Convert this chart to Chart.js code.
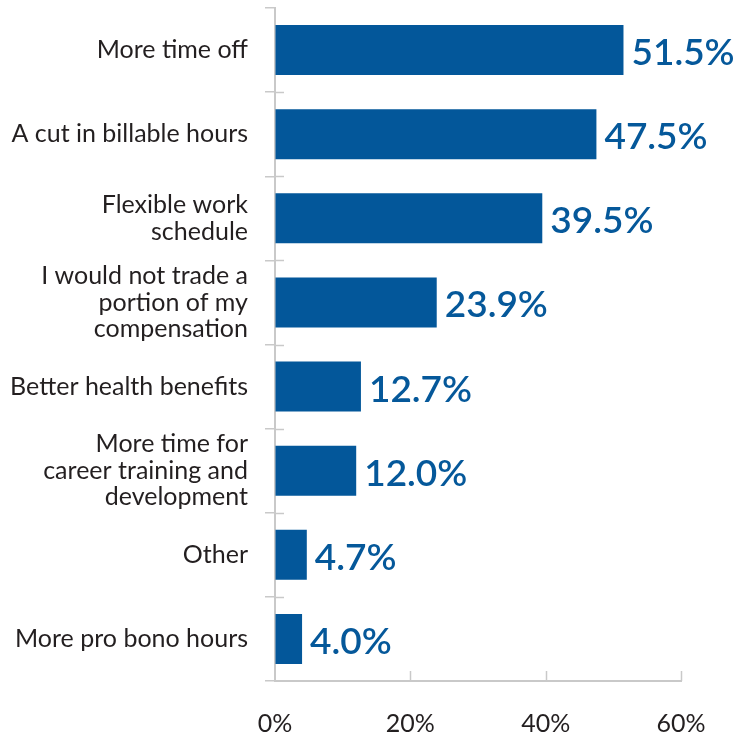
<!DOCTYPE html>
<html>
<head>
<meta charset="utf-8">
<script src="https://cdn.jsdelivr.net/npm/chart.js@4"></script>
<style>
  html, body { margin: 0; padding: 0; background: #fff; }
  #wrap { width: 733px; height: 736px; }
</style>
</head>
<body>
<div id="wrap"><canvas id="c" width="733" height="736"></canvas></div>
<script>
// Survey answers and their shares (percent of respondents)
const categories = [
  'More time off',
  'A cut in billable hours',
  ['Flexible work', 'schedule'],
  ['I would not trade a', 'portion of my', 'compensation'],
  'Better health benefits',
  ['More time for', 'career training and', 'development'],
  'Other',
  'More pro bono hours'
];
const shares = [51.5, 47.5, 39.5, 23.9, 12.7, 12.0, 4.7, 4.0];
const axisTicks = [0, 20, 40, 60];

const BAR_BLUE = '#03579a';
const LABEL_BLUE = '#05589a';
const AXIS_GREY = '#c9c9c9';
const TEXT_DARK = '#231f20';
const FONT = 'Lato, "Open Sans", sans-serif';

// Short tick stubs: crosses on the category axis, upward marks on the value axis
const axisStubs = {
  id: 'axisStubs',
  afterDraw(chart) {
    const { ctx, chartArea: a, scales: { x, y } } = chart;
    ctx.save();
    ctx.strokeStyle = AXIS_GREY;
    ctx.lineWidth = 1.5;
    ctx.beginPath();
    for (let i = 0; i < categories.length - 1; i++) {
      const yy = Math.round((y.getPixelForValue(i) + y.getPixelForValue(i + 1)) / 2) + 0.5;
      ctx.moveTo(a.left, yy);
      ctx.lineTo(a.left + 9, yy);
    }
    axisTicks.slice(1).forEach(v => {
      const xx = Math.round(x.getPixelForValue(v)) + 0.5;
      ctx.moveTo(xx, a.bottom);
      ctx.lineTo(xx, a.bottom - 10);
    });
    ctx.stroke();
    ctx.restore();
  }
};

// Percent value printed just past the end of each bar
const valueLabels = {
  id: 'valueLabels',
  afterDatasetsDraw(chart) {
    const { ctx } = chart;
    const meta = chart.getDatasetMeta(0);
    ctx.save();
    ctx.font = '600 37px ' + FONT;
    ctx.fillStyle = LABEL_BLUE;
    ctx.textAlign = 'left';
    ctx.textBaseline = 'middle';
    meta.data.forEach((bar, i) => {
      ctx.fillText(shares[i].toFixed(1) + '%', bar.x + 8, bar.y + 3);
    });
    ctx.restore();
  }
};

function draw() {
  new Chart(document.getElementById('c'), {
    type: 'bar',
    data: {
      labels: categories,
      datasets: [{
        data: shares,
        backgroundColor: BAR_BLUE,
        borderWidth: 0,
        barPercentage: 0.595,
        categoryPercentage: 1
      }]
    },
    options: {
      indexAxis: 'y',
      responsive: false,
      animation: false,
      layout: { padding: { top: 8, right: 52, left: 0, bottom: 0 } },
      plugins: { legend: { display: false }, tooltip: { enabled: false } },
      scales: {
        x: {
          type: 'linear',
          position: 'bottom',
          min: 0,
          max: 60,
          afterBuildTicks: s => { s.ticks = axisTicks.map(v => ({ value: v })); },
          afterFit: s => { s.height = 55; s.paddingLeft = 0; s.paddingRight = 0; },
          grid: { display: true, drawOnChartArea: false, drawTicks: false },
          border: { display: true, color: AXIS_GREY, width: 2 },
          ticks: {
            padding: 28,
            maxRotation: 0,
            autoSkip: false,
            color: TEXT_DARK,
            font: { family: FONT, size: 25 },
            callback: v => v + '%'
          }
        },
        y: {
          type: 'category',
          position: 'left',
          afterFit: s => { s.width = 275; s.paddingTop = 0; s.paddingBottom = 0; },
          grid: {
            display: true,
            offset: true,
            drawOnChartArea: false,
            drawTicks: true,
            tickLength: 10,
            color: AXIS_GREY,
            tickColor: AXIS_GREY,
            lineWidth: 1.5
          },
          border: { display: true, color: AXIS_GREY, width: 2 },
          ticks: {
            padding: 17,
            autoSkip: false,
            color: TEXT_DARK,
            font: { family: FONT, size: 25, lineHeight: 1.06 }
          }
        }
      }
    },
    plugins: [axisStubs, valueLabels]
  });
}

if (document.fonts && document.fonts.load) {
  Promise.all([
    document.fonts.load('25px Lato'),
    document.fonts.load('600 37px Lato')
  ]).then(draw, draw);
} else {
  draw();
}
</script>
</body>
</html>
